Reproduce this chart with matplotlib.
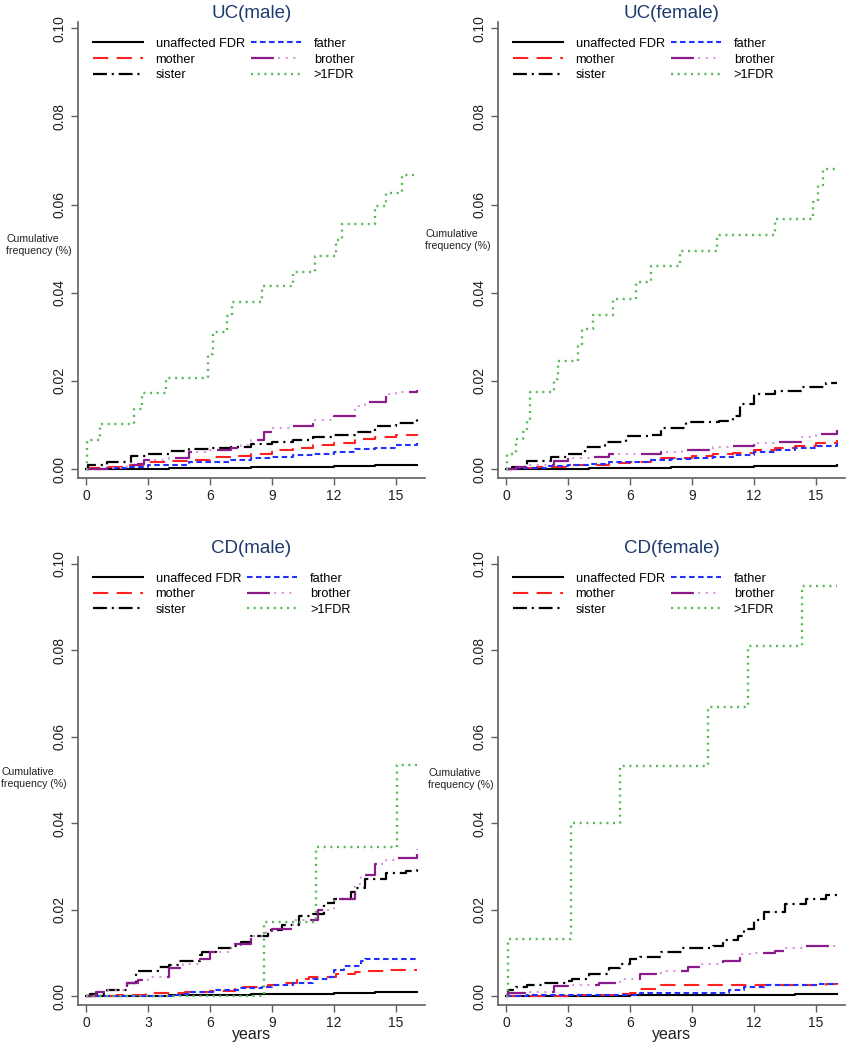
import numpy as np
import matplotlib
matplotlib.use("Agg")
import matplotlib.pyplot as plt
from matplotlib.legend_handler import HandlerTuple

plt.rcParams['font.family'] = ['Liberation Sans', 'DejaVu Sans']
plt.rcParams['lines.scale_dashes'] = False

# ---- data (cumulative frequency step curves) ----
# UC male
ucm_unaff_t = [0, 2, 4, 6, 8, 10, 12, 14, 16]
ucm_unaff_v = [0, 0.0001, 0.0002, 0.0003, 0.0004, 0.0005, 0.0007, 0.0009, 0.001]
ucm_mother_t = [0, 0.2, 1, 2, 3, 4, 5, 6, 7, 8, 9, 10, 11, 12, 13, 14, 15, 16]
ucm_mother_v = [0, 0.0003, 0.0005, 0.001, 0.0015, 0.0018, 0.002, 0.0027, 0.003, 0.0035,
                0.0042, 0.0048, 0.0055, 0.006, 0.0067, 0.0072, 0.0078, 0.008]
ucm_sister_t = [0, 0.1, 1, 2.2, 3, 4, 5, 6, 7, 8, 9, 10, 11, 12, 13, 14, 15, 16]
ucm_sister_v = [0, 0.001, 0.0017, 0.003, 0.0035, 0.004, 0.0045, 0.0047, 0.005, 0.0057,
                0.0062, 0.0066, 0.0072, 0.0078, 0.0085, 0.0097, 0.0105, 0.0115]
ucm_father_t = [0, 1, 2, 3, 4, 5, 6, 7, 8, 9, 10, 11, 12, 13, 14, 15, 16]
ucm_father_v = [0, 0.0002, 0.0005, 0.0008, 0.001, 0.0015, 0.0017, 0.002, 0.0025, 0.0028,
                0.0032, 0.0035, 0.0038, 0.0045, 0.0047, 0.0055, 0.006]
ucm_brother_t = [0, 1, 2, 2.5, 2.8, 4, 5, 6, 7, 7.5, 8, 8.6, 9, 10, 11, 12, 13, 13.5, 14.5, 15, 16]
ucm_brother_v = [0, 0.0003, 0.0008, 0.0012, 0.002, 0.0025, 0.0038, 0.0043, 0.0047, 0.0054,
                 0.0065, 0.0085, 0.0092, 0.0098, 0.0112, 0.012, 0.0143, 0.0152, 0.017, 0.0175, 0.018]
ucm_fdr_t = [0, 0.05, 0.7, 2.3, 2.7, 3.85, 5.9, 6.15, 6.8, 7.05, 8.5, 10.0, 11.1, 12.1, 12.4,
             14.0, 14.5, 15.3, 16]
ucm_fdr_v = [0, 0.0065, 0.0103, 0.0135, 0.0172, 0.0206, 0.026, 0.031, 0.0346, 0.0378, 0.0416,
             0.0448, 0.0484, 0.052, 0.0556, 0.0596, 0.0627, 0.0667, 0.0667]

# UC female
ucf_unaff_t = [0, 2, 4, 6, 8, 10, 12, 14, 16]
ucf_unaff_v = [0, 0.0001, 0.0002, 0.0003, 0.0004, 0.0005, 0.0006, 0.0007, 0.0008]
ucf_mother_t = [0, 0.3, 1.5, 3, 5, 6, 7, 7.5, 9, 10, 11, 12, 13, 14, 15, 16]
ucf_mother_v = [0, 0.0003, 0.0005, 0.001, 0.0013, 0.0017, 0.002, 0.0025, 0.003, 0.0033,
                0.0037, 0.0043, 0.0047, 0.0052, 0.0058, 0.0065]
ucf_sister_t = [0, 0.3, 1, 2.2, 3, 3.8, 4.8, 5.8, 7, 7.5, 8.7, 10.3, 11, 11.3, 12, 13, 14.3, 15.5, 16]
ucf_sister_v = [0, 0.0005, 0.0018, 0.0027, 0.0034, 0.005, 0.0062, 0.0074, 0.0078, 0.0092,
                0.0107, 0.011, 0.012, 0.0148, 0.017, 0.0178, 0.0187, 0.0195, 0.0195]
ucf_father_t = [0, 0.5, 2, 3, 4, 5, 6, 7, 8, 9, 10, 11, 12, 13, 14, 15, 16]
ucf_father_v = [0, 0.0003, 0.0006, 0.0009, 0.0012, 0.0015, 0.0017, 0.002, 0.0022, 0.0025,
                0.0028, 0.0032, 0.0038, 0.0042, 0.0047, 0.0052, 0.0058]
ucf_brother_t = [0, 0.5, 1, 2.3, 3, 4, 5, 6, 7.5, 8.5, 10, 11, 12, 13, 14.3, 15, 16]
ucf_brother_v = [0, 0.0005, 0.0008, 0.0018, 0.0025, 0.0028, 0.0033, 0.0035, 0.0038, 0.0042,
                 0.005, 0.0052, 0.0058, 0.0062, 0.0072, 0.008, 0.0088]
ucf_fdr_t = [0, 0.05, 0.5, 0.8, 1.0, 1.15, 2.3, 2.5, 3.5, 3.7, 4.2, 5.2, 6.3, 7.0, 8.4, 10.2,
             13.0, 14.85, 15.1, 15.35, 16]
ucf_fdr_v = [0, 0.0035, 0.0068, 0.0085, 0.011, 0.0175, 0.0205, 0.0245, 0.028, 0.0318, 0.035,
             0.0385, 0.0425, 0.046, 0.0495, 0.053, 0.0568, 0.0605, 0.0645, 0.068, 0.068]

# CD male
cdm_unaff_t = [0, 2, 4, 6, 8, 10, 12, 14, 16]
cdm_unaff_v = [0, 0.0001, 0.0002, 0.0003, 0.0004, 0.0005, 0.0007, 0.0009, 0.001]
cdm_mother_t = [0, 1.5, 2.9, 4.8, 6, 7.2, 8.8, 9.5, 10.2, 10.8, 12.1, 13, 13.5, 14.5, 16]
cdm_mother_v = [0, 0.0003, 0.0007, 0.001, 0.0012, 0.0022, 0.0025, 0.003, 0.004, 0.0045,
                0.005, 0.0055, 0.0058, 0.006, 0.006]
cdm_sister_t = [0, 0.2, 1, 2, 2.4, 3.5, 4, 4.5, 5.5, 5.6, 6.3, 7, 7.5, 8, 8.8, 9.5, 10.3, 11,
                11.5, 12, 12.8, 13, 13.5, 14.5, 15.5, 16]
cdm_sister_v = [0, 0.0005, 0.0013, 0.003, 0.0058, 0.0068, 0.0072, 0.0082, 0.0095, 0.0103,
                0.011, 0.0115, 0.0125, 0.014, 0.0152, 0.0165, 0.0185, 0.019, 0.0215, 0.0225,
                0.024, 0.025, 0.027, 0.0285, 0.029, 0.0295]
cdm_father_t = [0, 4.2, 4.7, 5, 6.2, 7.5, 8.5, 9, 10, 11, 11.8, 12, 12.5, 13.3, 13.5, 15, 16]
cdm_father_v = [0, 0.0003, 0.0005, 0.001, 0.0015, 0.0018, 0.0022, 0.0025, 0.003, 0.004,
                0.0045, 0.006, 0.007, 0.008, 0.0085, 0.0085, 0.009]
cdm_brother_t = [0, 0.5, 1, 2, 2.5, 3, 4, 4.7, 5.5, 6, 7, 8, 8.7, 9, 10, 11.2, 12, 13, 13.3,
                 14, 14.5, 15, 16]
cdm_brother_v = [0, 0.001, 0.0013, 0.003, 0.0037, 0.0045, 0.0065, 0.0075, 0.0085, 0.0103,
                 0.012, 0.014, 0.015, 0.0155, 0.0175, 0.0198, 0.0225, 0.026, 0.028, 0.0305,
                 0.0315, 0.032, 0.034]
cdm_fdr_t = [0, 8.6, 11.15, 15.05, 16]
cdm_fdr_v = [0, 0.0172, 0.0344, 0.0535, 0.0535]

# CD female
cdf_unaff_t = [0, 2, 4, 6, 8, 10, 12, 14, 16]
cdf_unaff_v = [0, 0.0001, 0.0001, 0.0002, 0.0002, 0.0003, 0.0003, 0.0004, 0.0004]
cdf_mother_t = [0, 3.5, 5.5, 6, 6.5, 7.5, 15.5, 16]
cdf_mother_v = [0, 0.0003, 0.0004, 0.0007, 0.0016, 0.0025, 0.0028, 0.003]
cdf_sister_t = [0, 0.1, 0.5, 1, 1.8, 3, 3.2, 4, 5, 5.5, 6, 6.5, 7.5, 8.5, 10, 10.5, 11.2, 11.5,
                12, 12.5, 13.5, 14.5, 15.5, 16]
cdf_sister_v = [0, 0.0015, 0.002, 0.0025, 0.003, 0.0035, 0.004, 0.005, 0.0065, 0.0075, 0.0085,
                0.009, 0.0102, 0.011, 0.0115, 0.013, 0.014, 0.0155, 0.0175, 0.0195, 0.0213,
                0.0225, 0.0233, 0.0233]
cdf_father_t = [0, 1, 6.5, 10.5, 10.8, 11.5, 12.5, 15, 16]
cdf_father_v = [0, 0.0002, 0.0006, 0.0006, 0.0015, 0.002, 0.0025, 0.0028, 0.003]
cdf_brother_t = [0, 0.1, 1, 2.3, 3, 4.5, 5.5, 6.5, 7.5, 8.8, 9.5, 10.5, 11.3, 12, 13, 13.5,
                 14.5, 16]
cdf_brother_v = [0, 0.0008, 0.001, 0.0023, 0.0025, 0.003, 0.004, 0.005, 0.0058, 0.0068, 0.0075,
                 0.0082, 0.0097, 0.01, 0.0105, 0.011, 0.0115, 0.012]
cdf_fdr_t = [0, 0.1, 3.15, 5.5, 9.75, 11.7, 14.3, 16]
cdf_fdr_v = [0, 0.0133, 0.04, 0.0532, 0.067, 0.0809, 0.0949, 0.0949]

titles = ['UC(male)', 'UC(female)', 'CD(male)', 'CD(female)']
unaff_labels = ['unaffected FDR', 'unaffected FDR', 'unaffeced FDR', 'unaffected FDR']
yticks = [0, 0.02, 0.04, 0.06, 0.08, 0.10]
xticks = [0, 3, 6, 9, 12, 15]

panels = [
    (ucm_unaff_t, ucm_unaff_v, ucm_mother_t, ucm_mother_v, ucm_sister_t, ucm_sister_v,
     ucm_father_t, ucm_father_v, ucm_brother_t, ucm_brother_v, ucm_fdr_t, ucm_fdr_v),
    (ucf_unaff_t, ucf_unaff_v, ucf_mother_t, ucf_mother_v, ucf_sister_t, ucf_sister_v,
     ucf_father_t, ucf_father_v, ucf_brother_t, ucf_brother_v, ucf_fdr_t, ucf_fdr_v),
    (cdm_unaff_t, cdm_unaff_v, cdm_mother_t, cdm_mother_v, cdm_sister_t, cdm_sister_v,
     cdm_father_t, cdm_father_v, cdm_brother_t, cdm_brother_v, cdm_fdr_t, cdm_fdr_v),
    (cdf_unaff_t, cdf_unaff_v, cdf_mother_t, cdf_mother_v, cdf_sister_t, cdf_sister_v,
     cdf_father_t, cdf_father_v, cdf_brother_t, cdf_brother_v, cdf_fdr_t, cdf_fdr_v),
]

W, H = 847, 1050
fig = plt.figure(figsize=(W / 100, H / 100), dpi=100)

# axes boxes in pixels: (left, top, right, bottom)
boxes = [(78, 22, 425, 478), (498, 22, 845, 478), (78, 557, 425, 1005), (498, 557, 845, 1005)]
ylims = [(-0.00204, 0.1014), (-0.00204, 0.1014), (-0.00208, 0.1016), (-0.00208, 0.1016)]
ylab_pos = [(6, 245), (425, 240), (1, 778), (428, 779)]

axis_col = '#606060'
title_col = '#1F3A6E'

for i, ax_box in enumerate(boxes):
    l, t, r, b = ax_box
    ax = fig.add_axes([l / W, 1 - b / H, (r - l) / W, (b - t) / H])
    (ut, uv, mt, mv, st, sv, ft, fv, bt, bv, gt, gv) = panels[i]

    h1, = ax.step(ut, uv, where='post', color='black', lw=1.5)
    h2, = ax.step(mt, mv, where='post', color='#FF2020', lw=1.5, linestyle=(0, (11, 6)))
    h3, = ax.step(st, sv, where='post', color='black', lw=1.6,
                  linestyle=(0, (10, 3.5, 1.5, 3.5)))
    h4, = ax.step(ft, fv, where='post', color='#2030FF', lw=1.5, linestyle=(0, (4, 2.5)))
    h5a, = ax.step(bt, bv, where='post', color='#8B1A8B', lw=1.6, linestyle=(0, (16.5, 19.5)))
    h5b, = ax.step(bt, bv, where='post', color='#D58BD5', lw=1.3,
                   linestyle=(16.5, (1.5, 4, 1.5, 4, 1.5, 23.5)))
    h6, = ax.step(gt, gv, where='post', color='#5CB85C', lw=1.7, linestyle=(0, (1.5, 3.3)))

    handles = [h1, h2, h3, h4, (h5a, h5b), h6]
    labels = [unaff_labels[i], 'mother', 'sister', 'father', 'brother', '>1FDR']
    ax.legend(handles, labels, ncol=2, loc='upper left', bbox_to_anchor=(0.043, 0.965),
              frameon=False, fontsize=9.2, handlelength=3.9, handletextpad=1.0,
              columnspacing=0.5, labelspacing=0.28, borderpad=0, borderaxespad=0,
              handler_map={tuple: HandlerTuple(ndivide=1, pad=0)})

    ax.set_xlim(-0.387, 16.4)
    ax.set_ylim(*ylims[i])
    ax.set_xticks(xticks)
    ax.set_yticks(yticks)
    ax.set_yticklabels(['%.2f' % y for y in yticks], rotation=90, va='center')
    ax.tick_params(direction='out', length=5, width=1, color=axis_col,
                   labelsize=10, pad=3, labelcolor='#202020')
    for s in ['top', 'right']:
        ax.spines[s].set_visible(False)
    for s in ['left', 'bottom']:
        ax.spines[s].set_color(axis_col)
        ax.spines[s].set_linewidth(1.2)
    ax.set_title(titles[i], fontsize=13.5, color=title_col, pad=3)
    if i >= 2:
        ax.set_xlabel('years', fontsize=11.5, labelpad=-2, color='#202020')

    x0, y0 = ylab_pos[i]
    fig.text(x0 / W, 1 - y0 / H, 'Cumulative\nfrequency (%)', fontsize=7.6,
             ha='left', va='center', linespacing=1.35, color='#202020')

fig.savefig('out.png', dpi=100)
